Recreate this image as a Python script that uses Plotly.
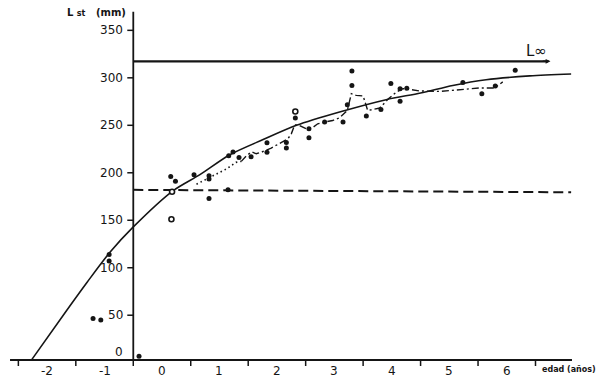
import plotly.graph_objects as go

# ---- data (age in years, standard length Lst in mm) ----
obs_age = [-0.42, -0.42, -0.70, -0.565, 0.10, 0.652, 0.734, 1.057, 1.318, 1.318, 1.318,
           1.649, 1.661, 1.736, 1.84, 2.05, 2.327, 2.327, 2.664, 2.664, 2.82, 3.057,
           3.057, 3.33, 3.65, 3.725, 3.805, 3.805, 4.056, 4.31, 4.483, 4.643, 4.643,
           4.76, 5.736, 6.066, 6.30, 6.647]
obs_len = [114, 107, 46.5, 45, 6.7, 196, 191, 198, 197, 193.5, 173,
           182, 218, 222, 216, 217, 231.5, 221.7, 232, 226, 257.6, 236.8,
           246.3, 253.4, 253.4, 271.7, 307.3, 291.8, 259.7, 266.7, 293.9, 275.2, 288.6,
           289, 295, 283.3, 291.4, 308]

open_age = [0.664, 0.675, 2.82]
open_len = [151, 180, 264.6]

# running mean of observed lengths (dotted start, then dash-dot)
mean_dot_age = [1.10, 1.33, 1.47, 1.62, 1.79, 1.88]
mean_dot_len = [188, 195, 199, 204, 211, 212]
mean_age = [1.88, 1.97, 2.06, 2.14, 2.23, 2.40, 2.58, 2.69, 2.75, 2.81, 2.87, 3.01, 3.13,
            3.21, 3.33, 3.47, 3.59, 3.725, 3.795, 3.88, 4.0, 4.04, 4.08, 4.29, 4.43, 4.58,
            4.69, 4.81, 4.98, 5.33, 5.74, 6.03, 6.29, 6.43]
mean_len = [212, 218, 222, 220, 221.7, 226, 232, 235.7, 241, 250.5, 250.5, 246.3, 248,
            251.6, 253.4, 255, 258, 265.6, 283.3, 281.5, 280.9, 272.7, 265.6, 268.2, 277.3, 285,
            288.6, 287.8, 286.2, 285.7, 287.8, 289.3, 289.3, 295.7]

# fitted growth curve
curve_age = [-1.77, -1.16, -0.80, -0.41, 0.0, 0.69, 1.16, 1.68, 2.26, 2.84, 3.59, 4.40,
             5.0, 5.56, 6.14, 6.9, 7.62]
curve_len = [3, 55, 85, 116, 143, 181, 198, 219, 235, 250, 264, 277,
             284, 292, 298, 302, 304]

# asymptotic length L-infinity
linf_age = [0.0, 7.22]
linf_len = [317.4, 317.4]

# dashed horizontal reference
ref_age = [0.0, 7.62]
ref_len = [182, 179.5]

# axes
x_ticks = [-2, -1, 0, 1, 2, 3, 4, 5, 6, 7]
x_labels = ["-2", "-1", "0", "1", "2", "3", "4", "5", "6"]
y_ticks = [50, 100, 150, 200, 250, 300, 350]
y_labels = ["0", "50", "100", "150", "200", "250", "300", "350"]
y_label_vals = [0, 50, 100, 150, 200, 250, 300, 350]

INK = "#151515"
FONT = "DejaVu Sans"
X0_LEN = 2.84     # level of the drawn x axis
PX_X = 57.46      # pixels per year
PX_Y = 0.9496     # pixels per mm

fig = go.Figure()

fig.add_trace(go.Scatter(x=curve_age, y=curve_len, mode="lines",
                         line=dict(color=INK, width=1.6, shape="spline", smoothing=0.8),
                         hoverinfo="skip", showlegend=False))
fig.add_trace(go.Scatter(x=linf_age, y=linf_len, mode="lines",
                         line=dict(color=INK, width=2.2), showlegend=False))
fig.add_trace(go.Scatter(x=ref_age, y=ref_len, mode="lines",
                         line=dict(color=INK, width=2, dash="10px,5px"), showlegend=False))
fig.add_trace(go.Scatter(x=mean_dot_age, y=mean_dot_len, mode="lines",
                         line=dict(color=INK, width=1.6, dash="1.5px,3px"), showlegend=False))
fig.add_trace(go.Scatter(x=mean_age, y=mean_len, mode="lines",
                         line=dict(color=INK, width=1.4, dash="7px,3px,2px,3px"), showlegend=False))
fig.add_trace(go.Scatter(x=obs_age, y=obs_len, mode="markers",
                         marker=dict(color=INK, size=5, line=dict(width=0)), showlegend=False))
fig.add_trace(go.Scatter(x=open_age, y=open_len, mode="markers",
                         marker=dict(color="white", size=5, line=dict(color=INK, width=1.6)),
                         showlegend=False))

shapes = []
# y axis line
shapes.append(dict(type="line", xref="x", yref="y", x0=0, x1=0, y0=X0_LEN, y1=369.5,
                   line=dict(color=INK, width=1.8)))
# x axis line
shapes.append(dict(type="line", xref="x", yref="y", x0=-2.145, x1=7.635, y0=X0_LEN, y1=X0_LEN,
                   line=dict(color=INK, width=1.8)))
for t in x_ticks:
    shapes.append(dict(type="line", xref="x", yref="y", x0=t, x1=t,
                       y0=X0_LEN, y1=X0_LEN - 6 / PX_Y, line=dict(color=INK, width=1.5)))
for v in y_ticks:
    shapes.append(dict(type="line", xref="x", yref="y", x0=0, x1=-6 / PX_X,
                       y0=v, y1=v, line=dict(color=INK, width=1.5)))

annotations = []
for lab in x_labels:
    annotations.append(dict(x=int(lab) + 0.5, y=X0_LEN, xref="x", yref="y", text=lab,
                            showarrow=False, yshift=-11, xanchor="center", yanchor="middle",
                            font=dict(family=FONT, size=12, color=INK)))
for lab, v in zip(y_labels, y_label_vals):
    annotations.append(dict(x=0, y=v, xref="x", yref="y", text=lab, showarrow=False,
                            xshift=-8, yshift=(10.5 if v == 0 else 0),
                            xanchor="right", yanchor="middle",
                            font=dict(family=FONT, size=12, color=INK)))
annotations.append(dict(x=0, y=369, xref="x", yref="y", xshift=-5,
                        text="<b>L <span style='font-size:8px'>st</span>   (mm)</b>",
                        showarrow=False, xanchor="right", yanchor="middle",
                        font=dict(family=FONT, size=10, color=INK)))
annotations.append(dict(x=7.01, y=328, xref="x", yref="y", text="L∞", showarrow=False,
                        xanchor="center", yanchor="middle",
                        font=dict(family=FONT, size=15, color=INK)))
annotations.append(dict(x=7.07, y=X0_LEN, xref="x", yref="y", text="<b>edad (años)</b>",
                        showarrow=False, xanchor="left", yanchor="middle", yshift=-9,
                        font=dict(family=FONT, size=8, color=INK)))
# small arrow head at end of L-infinity line
annotations.append(dict(x=7.26, y=317.4, ax=7.1, ay=317.4, xref="x", yref="y",
                        axref="x", ayref="y", text="", showarrow=True,
                        arrowhead=2, arrowsize=0.6, arrowwidth=1.6, arrowcolor=INK))

fig.update_layout(
    width=600, height=382,
    margin=dict(l=0, r=0, t=0, b=0, pad=0),
    paper_bgcolor="white", plot_bgcolor="white",
    xaxis=dict(range=[-2.3195, 8.1225], visible=False, fixedrange=True),
    yaxis=dict(range=[-20.32, 381.95], visible=False, fixedrange=True),
    shapes=shapes, annotations=annotations, showlegend=False,
)

fig.write_html("out.html", config={"displayModeBar": False},
               post_script="document.body.style.margin='0';document.body.style.overflow='hidden';")
